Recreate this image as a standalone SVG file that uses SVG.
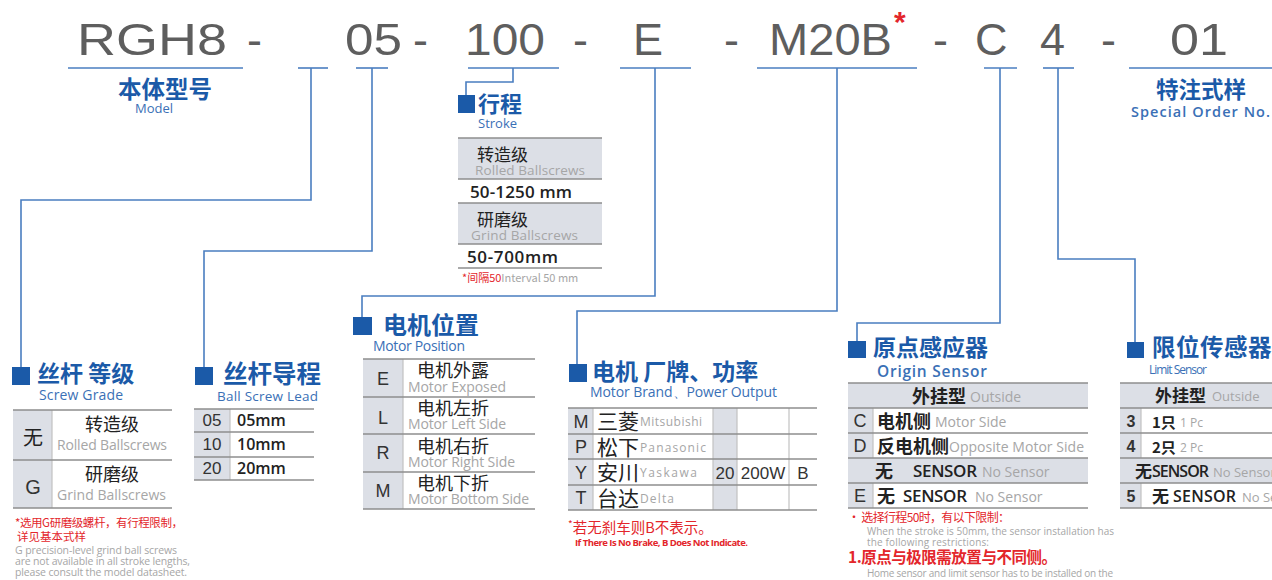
<svg xmlns="http://www.w3.org/2000/svg" width="1272" height="580" viewBox="0 0 1272 580">
<style>
.code{font-family:"Liberation Sans",Arial,sans-serif;font-size:45px;fill:#5e5e5e}
.ttl{font-family:"Noto Sans CJK SC",sans-serif;font-weight:700;fill:#1b5aa8}
.sub{font-family:"Open Sans","Liberation Sans",sans-serif;fill:#3a70b6}
.cn{font-family:"Noto Sans CJK SC",sans-serif;fill:#222}
.cnb{font-family:"Noto Sans CJK SC",sans-serif;font-weight:700;fill:#222}
.en{font-family:"Open Sans","Liberation Sans",sans-serif;fill:#a6a6a6}
.lt{font-family:"Liberation Sans",Arial,sans-serif;fill:#333}
.num{font-family:"Open Sans","Liberation Sans",sans-serif;font-weight:600;fill:#222}
.red{fill:#e3262b}
.conn{stroke:#4a7ec0;stroke-width:1.6;fill:none}
.grid{stroke:#8e8e8e;stroke-width:1.4}
.vline{stroke:#c2c2c2;stroke-width:1.2}
.shade{fill:#dcdfe6}
.sq{fill:#1b5aa8}
</style>

<g id="code">
<text class="code" x="77" y="55" textLength="150" lengthAdjust="spacingAndGlyphs">RGH8</text>
<text class="code" x="247" y="55">-</text>
<text class="code" x="345" y="55" textLength="57" lengthAdjust="spacingAndGlyphs">05</text>
<text class="code" x="413" y="55">-</text>
<text class="code" x="465" y="55" textLength="80" lengthAdjust="spacingAndGlyphs">100</text>
<text class="code" x="573" y="55">-</text>
<text class="code" x="633" y="55">E</text>
<text class="code" x="724" y="55">-</text>
<text class="code" x="769" y="55" textLength="123" lengthAdjust="spacingAndGlyphs">M20B</text>
<text x="894" y="32" font-family="Liberation Sans,Arial,sans-serif" font-size="30" font-weight="700" fill="#e3262b">*</text>
<text class="code" x="933" y="55">-</text>
<text class="code" x="975" y="55">C</text>
<text class="code" x="1040" y="55">4</text>
<text class="code" x="1101" y="55">-</text>
<text class="code" x="1170" y="55" textLength="58" lengthAdjust="spacingAndGlyphs">01</text>
</g>

<g id="connectors">
<line class="conn" x1="68" y1="68" x2="243" y2="68"/>
<line class="conn" x1="298" y1="68" x2="328" y2="68"/>
<polyline class="conn" points="311,68 311,200 21,200 21,367"/>
<line class="conn" x1="356" y1="68" x2="388" y2="68"/>
<polyline class="conn" points="372,68 372,251 204,251 204,367"/>
<line class="conn" x1="468" y1="68" x2="559" y2="68"/>
<polyline class="conn" points="513,68 513,82 466,82 466,95"/>
<line class="conn" x1="620" y1="68" x2="691" y2="68"/>
<polyline class="conn" points="655,68 655,296 362,296 362,317"/>
<line class="conn" x1="757" y1="68" x2="917" y2="68"/>
<polyline class="conn" points="837,68 837,311 577,311 577,364"/>
<line class="conn" x1="984" y1="68" x2="1017" y2="68"/>
<polyline class="conn" points="1000,68 1000,323 857,323 857,341"/>
<line class="conn" x1="1043" y1="68" x2="1074" y2="68"/>
<polyline class="conn" points="1058,68 1058,259 1135,259 1135,342"/>
<line class="conn" x1="1129" y1="68" x2="1272" y2="68"/>
</g>

<g id="model">
<text class="ttl" x="165" y="98" font-size="23.5" text-anchor="middle">本体型号</text>
<text class="sub" x="135" y="113" font-size="13">Model</text>
</g>

<g id="special">
<text class="ttl" x="1201" y="98" font-size="22.5" text-anchor="middle">特注式样</text>
<text class="sub" x="1131" y="117" font-size="14.5" font-weight="600" textLength="139">Special Order No.</text>
</g>

<g id="stroke">
<rect class="sq" x="458" y="95" width="17" height="18"/>
<text class="ttl" x="478" y="112" font-size="22">行程</text>
<text class="sub" x="478" y="128" font-size="13">Stroke</text>
<rect class="shade" x="458" y="138" width="144" height="41"/>
<rect class="shade" x="458" y="203" width="144" height="41"/>
<line class="grid" x1="458" y1="138" x2="602" y2="138"/>
<line class="grid" x1="458" y1="179" x2="602" y2="179"/>
<line class="grid" x1="458" y1="203" x2="602" y2="203"/>
<line class="grid" x1="458" y1="244" x2="602" y2="244"/>
<line class="grid" x1="458" y1="268" x2="602" y2="268"/>
<text class="cn" x="477" y="161" font-size="17">转造级</text>
<text class="en" x="475" y="175" font-size="13.5" textLength="110">Rolled Ballscrews</text>
<text class="num" x="470" y="198" font-size="17" textLength="102">50-1250 mm</text>
<text class="cn" x="477" y="226" font-size="17">研磨级</text>
<text class="en" x="471" y="240" font-size="13.5" textLength="107">Grind Ballscrews</text>
<text class="num" x="467" y="263" font-size="17" textLength="91">50-700mm</text>
<text x="462" y="282" font-size="11" font-family="Noto Sans CJK SC,sans-serif"><tspan class="red">*间隔50</tspan><tspan fill="#a6a6a6">Interval 50 mm</tspan></text>
</g>

<g id="screw-grade">
<rect class="sq" x="12" y="367" width="18" height="18"/>
<text class="ttl" x="37" y="382" font-size="23">丝杆 等级</text>
<text class="sub" x="39" y="400" font-size="14" textLength="84">Screw Grade</text>
<rect class="shade" x="13" y="410" width="39" height="98"/>
<line class="vline" x1="52" y1="410" x2="52" y2="508"/>
<line class="grid" x1="13" y1="410" x2="172" y2="410"/>
<line class="grid" x1="13" y1="460" x2="172" y2="460"/>
<line class="grid" x1="13" y1="508" x2="172" y2="508"/>
<text class="cn" x="33" y="445" font-size="20" text-anchor="middle" fill="#333">无</text>
<text class="cn" x="112" y="431" font-size="18" text-anchor="middle">转造级</text>
<text class="en" x="57" y="450" font-size="14" textLength="110">Rolled Ballscrews</text>
<text class="lt" x="33" y="494" font-size="20" text-anchor="middle">G</text>
<text class="cn" x="112" y="481" font-size="18" text-anchor="middle">研磨级</text>
<text class="en" x="57" y="500" font-size="14" textLength="109">Grind Ballscrews</text>
<text class="cn red" x="15" y="527" font-size="11.5" textLength="168">*选用G研磨级螺杆，有行程限制，</text>
<text class="cn red" x="17" y="541" font-size="11.5">详见基本式样</text>
<text class="en" x="15" y="554" font-size="10.5" fill="#9a9a9a" textLength="162">G precision-level grind ball screws</text>
<text class="en" x="15" y="565" font-size="10.5" fill="#9a9a9a" textLength="175">are not available in all stroke lengths,</text>
<text class="en" x="15" y="576" font-size="10.5" fill="#9a9a9a" textLength="172">please consult the model datasheet.</text>
</g>

<g id="screw-lead">
<rect class="sq" x="195" y="367" width="18" height="18"/>
<text class="ttl" x="223" y="383" font-size="24.5">丝杆导程</text>
<text class="sub" x="217" y="401" font-size="13.5" textLength="101">Ball Screw Lead</text>
<rect class="shade" x="194" y="409" width="36" height="71"/>
<line class="vline" x1="230" y1="409" x2="230" y2="480"/>
<line class="grid" x1="194" y1="409" x2="314" y2="409"/>
<line class="grid" x1="194" y1="432" x2="314" y2="432"/>
<line class="grid" x1="194" y1="457" x2="314" y2="457"/>
<line class="grid" x1="194" y1="480" x2="314" y2="480"/>
<text class="lt" x="212" y="426" font-size="17" text-anchor="middle">05</text>
<text class="num" x="237" y="426" font-size="16">05mm</text>
<text class="lt" x="212" y="450" font-size="17" text-anchor="middle">10</text>
<text class="num" x="237" y="450" font-size="16">10mm</text>
<text class="lt" x="212" y="474" font-size="17" text-anchor="middle">20</text>
<text class="num" x="237" y="474" font-size="16">20mm</text>
</g>

<g id="motor-position">
<rect class="sq" x="353" y="317" width="19" height="18"/>
<text class="ttl" x="383" y="334" font-size="24">电机位置</text>
<text class="sub" x="373" y="351" font-size="14" textLength="92">Motor Position</text>
<rect class="shade" x="363" y="359" width="40" height="150"/>
<line class="vline" x1="403" y1="359" x2="403" y2="509"/>
<line class="grid" x1="363" y1="359" x2="535" y2="359"/>
<line class="grid" x1="363" y1="397" x2="535" y2="397"/>
<line class="grid" x1="363" y1="434" x2="535" y2="434"/>
<line class="grid" x1="363" y1="472" x2="535" y2="472"/>
<line class="grid" x1="363" y1="509" x2="535" y2="509"/>
<text class="lt" x="383" y="385" font-size="18" text-anchor="middle">E</text>
<text class="cn" x="417" y="377" font-size="18">电机外露</text>
<text class="en" x="408" y="392" font-size="14" textLength="98">Motor Exposed</text>
<text class="lt" x="383" y="424" font-size="18" text-anchor="middle">L</text>
<text class="cn" x="417" y="415" font-size="18">电机左折</text>
<text class="en" x="408" y="429" font-size="14" textLength="98">Motor Left Side</text>
<text class="lt" x="383" y="459" font-size="18" text-anchor="middle">R</text>
<text class="cn" x="417" y="453" font-size="18">电机右折</text>
<text class="en" x="408" y="467" font-size="14" textLength="107">Motor Right Side</text>
<text class="lt" x="383" y="497" font-size="18" text-anchor="middle">M</text>
<text class="cn" x="417" y="490" font-size="18">电机下折</text>
<text class="en" x="408" y="504" font-size="14" textLength="121">Motor Bottom Side</text>
</g>

<g id="motor-brand">
<rect class="sq" x="569" y="364" width="18" height="18"/>
<text class="ttl" x="592" y="380" font-size="23">电机 厂牌、功率</text>
<text class="sub" x="590" y="397" font-size="14" textLength="187">Motor Brand、Power Output</text>
<rect class="shade" x="568" y="408" width="25" height="102"/>
<rect class="shade" x="713" y="408" width="24" height="102"/>
<line class="vline" x1="593" y1="408" x2="593" y2="510"/>
<line class="vline" x1="713" y1="408" x2="713" y2="510"/>
<line class="vline" x1="737" y1="408" x2="737" y2="510"/>
<line class="vline" x1="789" y1="408" x2="789" y2="510"/>
<line class="grid" x1="568" y1="408" x2="817" y2="408"/>
<line class="grid" x1="568" y1="434" x2="817" y2="434"/>
<line class="grid" x1="568" y1="459" x2="817" y2="459"/>
<line class="grid" x1="568" y1="485" x2="817" y2="485"/>
<line class="grid" x1="568" y1="510" x2="817" y2="510"/>
<text class="lt" x="581" y="428" font-size="18" text-anchor="middle">M</text>
<text class="cn" x="597" y="429" font-size="21">三菱</text>
<text class="en" x="640" y="426" font-size="12" textLength="62">Mitsubishi</text>
<text class="lt" x="581" y="453" font-size="18" text-anchor="middle">P</text>
<text class="cn" x="597" y="455" font-size="21">松下</text>
<text class="en" x="640" y="452" font-size="12" textLength="66">Panasonic</text>
<text class="lt" x="581" y="479" font-size="18" text-anchor="middle">Y</text>
<text class="cn" x="597" y="480" font-size="21">安川</text>
<text class="en" x="640" y="477" font-size="12" textLength="57">Yaskawa</text>
<text class="lt" x="725" y="479" font-size="17" text-anchor="middle">20</text>
<text class="lt" x="763" y="479" font-size="17" text-anchor="middle">200W</text>
<text class="lt" x="803" y="479" font-size="17" text-anchor="middle">B</text>
<text class="lt" x="581" y="504" font-size="18" text-anchor="middle">T</text>
<text class="cn" x="597" y="506" font-size="21">台达</text>
<text class="en" x="640" y="503" font-size="12" textLength="34">Delta</text>
<text class="cn red" x="568" y="533" font-size="14.5"><tspan font-size="10" dy="-5">*</tspan><tspan dy="5">若无刹车则B不表示。</tspan></text>
<text class="red" x="575" y="546" font-size="9.5" font-weight="700" font-family="Open Sans,Liberation Sans,sans-serif" textLength="173">If There Is No Brake, B Does Not Indicate.</text>
</g>

<g id="origin-sensor">
<rect class="sq" x="848" y="341" width="18" height="17"/>
<text class="ttl" x="873" y="356" font-size="23">原点感应器</text>
<text class="sub" x="877" y="377" font-size="15.5" font-weight="600" fill="#2f6cb5" textLength="110">Origin Sensor</text>
<rect class="shade" x="848" y="383" width="240" height="25"/>
<rect class="shade" x="848" y="458" width="240" height="25"/>
<rect class="shade" x="848" y="408" width="25" height="50"/>
<rect class="shade" x="848" y="483" width="25" height="25"/>
<line class="vline" x1="873" y1="408" x2="873" y2="458"/>
<line class="vline" x1="873" y1="483" x2="873" y2="508"/>
<line class="grid" x1="848" y1="383" x2="1088" y2="383"/>
<line class="grid" x1="848" y1="408" x2="1088" y2="408"/>
<line class="grid" x1="848" y1="433" x2="1088" y2="433"/>
<line class="grid" x1="848" y1="458" x2="1088" y2="458"/>
<line class="grid" x1="848" y1="483" x2="1088" y2="483"/>
<line class="grid" x1="848" y1="508" x2="1088" y2="508"/>
<text class="cnb" x="912" y="403" font-size="18">外挂型</text>
<text class="en" x="970" y="402" font-size="14">Outside</text>
<text class="lt" x="860" y="427" font-size="18" text-anchor="middle">C</text>
<text class="cnb" x="877" y="428" font-size="18">电机侧</text>
<text class="en" x="935" y="427" font-size="14">Motor Side</text>
<text class="lt" x="860" y="452" font-size="18" text-anchor="middle">D</text>
<text class="cnb" x="877" y="453" font-size="18">反电机侧</text>
<text class="en" x="949" y="452" font-size="14" textLength="135">Opposite Motor Side</text>
<text class="cnb" x="875" y="478" font-size="18">无</text>
<text class="num" x="913" y="477" font-size="17" font-weight="700" textLength="64">SENSOR</text>
<text class="en" x="982" y="477" font-size="14">No Sensor</text>
<text class="lt" x="860" y="502" font-size="18" text-anchor="middle">E</text>
<text class="cnb" x="877" y="503" font-size="18">无</text>
<text class="num" x="903" y="502" font-size="17" font-weight="700" textLength="64">SENSOR</text>
<text class="en" x="975" y="502" font-size="14">No Sensor</text>
<text class="cn red" x="848" y="522" font-size="12" textLength="162">• 选择行程50时，有以下限制：</text>
<text class="en" x="867" y="535" font-size="10" fill="#a0a0a0" textLength="247">When the stroke is 50mm, the sensor installation has</text>
<text class="en" x="867" y="546" font-size="10" fill="#a0a0a0" textLength="122">the following restrictions:</text>
<text class="cnb red" x="848" y="563" font-size="15.5" textLength="209">1.原点与极限需放置与不同侧。</text>
<text class="en" x="867" y="577" font-size="10" fill="#a0a0a0" textLength="246">Home sensor and limit sensor has to be installed on the</text>
</g>

<g id="limit-sensor">
<rect class="sq" x="1127" y="342" width="17" height="16"/>
<text class="ttl" x="1152" y="356" font-size="23.5" letter-spacing="0.5">限位传感器</text>
<text class="sub" x="1149" y="374" font-size="12" textLength="58">Limit Sensor</text>
<rect class="shade" x="1120" y="383" width="152" height="25"/>
<rect class="shade" x="1120" y="458" width="152" height="25"/>
<rect class="shade" x="1120" y="408" width="21" height="50"/>
<rect class="shade" x="1120" y="483" width="21" height="25"/>
<line class="vline" x1="1141" y1="408" x2="1141" y2="458"/>
<line class="vline" x1="1141" y1="483" x2="1141" y2="508"/>
<line class="grid" x1="1120" y1="383" x2="1272" y2="383"/>
<line class="grid" x1="1120" y1="408" x2="1272" y2="408"/>
<line class="grid" x1="1120" y1="433" x2="1272" y2="433"/>
<line class="grid" x1="1120" y1="458" x2="1272" y2="458"/>
<line class="grid" x1="1120" y1="483" x2="1272" y2="483"/>
<line class="grid" x1="1120" y1="508" x2="1272" y2="508"/>
<text class="cnb" x="1155" y="402" font-size="17">外挂型</text>
<text class="en" x="1212" y="401" font-size="13">Outside</text>
<text class="lt" x="1131" y="427" font-size="16" font-weight="700" text-anchor="middle">3</text>
<text class="cnb" x="1152" y="428" font-size="15">1只</text>
<text class="en" x="1180" y="427" font-size="12">1 Pc</text>
<text class="lt" x="1131" y="452" font-size="16" font-weight="700" text-anchor="middle">4</text>
<text class="cnb" x="1152" y="453" font-size="15">2只</text>
<text class="en" x="1180" y="452" font-size="12">2 Pc</text>
<text class="cnb" x="1135" y="478" font-size="17">无</text>
<text class="num" x="1152" y="477" font-size="16" font-weight="700" textLength="57">SENSOR</text>
<text class="en" x="1213" y="477" font-size="13">No Sensor</text>
<text class="lt" x="1131" y="502" font-size="16" font-weight="700" text-anchor="middle">5</text>
<text class="cnb" x="1152" y="503" font-size="17">无</text>
<text class="num" x="1173" y="502" font-size="16" font-weight="700" textLength="63">SENSOR</text>
<text class="en" x="1242" y="502" font-size="13">No Sensor</text>
</g>
</svg>
